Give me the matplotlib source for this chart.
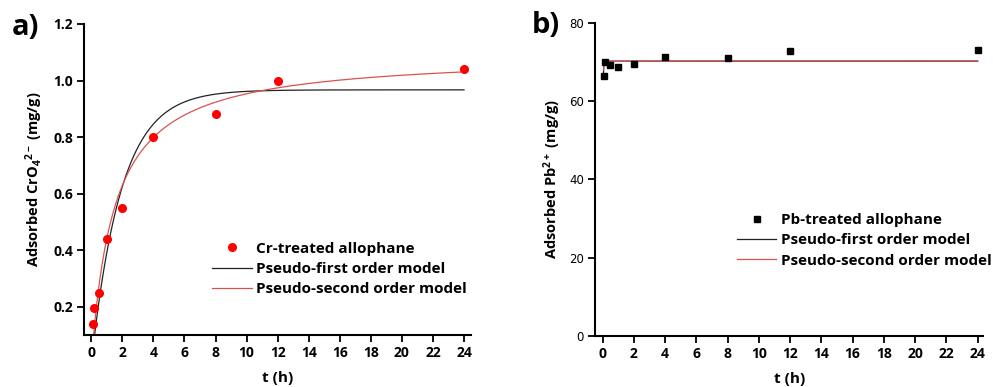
import numpy as np
import matplotlib
matplotlib.use("Agg")
import matplotlib.pyplot as plt

plt.rcParams['font.family'] = ['Open Sans', 'DejaVu Sans']
plt.rcParams['mathtext.fontset'] = 'custom'
plt.rcParams['mathtext.rm'] = 'Open Sans:bold'
plt.rcParams['mathtext.it'] = 'Open Sans:bold'
plt.rcParams['mathtext.bf'] = 'Open Sans:bold'

# sampling times (h)
t_cr = [0.083, 0.167, 0.5, 1, 2, 4, 8, 12, 24]
q_cr = [0.14, 0.195, 0.25, 0.44, 0.55, 0.80, 0.88, 1.00, 1.04]

t_pb = [0.083, 0.167, 0.5, 1, 2, 4, 8, 12, 24]
q_pb = [66.5, 69.9, 69.3, 68.7, 69.4, 71.4, 71.0, 72.8, 73.0]

# fitted kinetic parameters
cr_pfo = dict(qe=0.967, k1=0.52)
cr_pso = dict(qe=1.094, k2=0.619)
pb_pfo = dict(qe=70.25, k1=60.0)
pb_pso = dict(qe=70.3, k2=8.4)

xticks = list(range(0, 25, 2))


def pfo(t, qe, k1):
    return qe * (1 - np.exp(-k1 * t))


def pso(t, qe, k2):
    return qe ** 2 * k2 * t / (1 + qe * k2 * t)


fig = plt.figure(figsize=(9.93, 3.87), dpi=100)
ax1 = fig.add_axes([0.0846, 0.1344, 0.3897, 0.8036])
ax2 = fig.add_axes([0.5992, 0.1326, 0.3910, 0.8080])

red = '#ff0000'
line_red = '#d9534f'
line_blk = '#222222'
leg_font = {'weight': 'bold', 'size': 11}

# ---- a) chromate
tt = np.linspace(0, 24, 600)
ax1.plot(t_cr, q_cr, 'o', color=red, ms=5.5, label='Cr-treated allophane', zorder=3)
ax1.plot(tt, pfo(tt, **cr_pfo), color=line_blk, lw=0.9, label='Pseudo-first order model')
ax1.plot(tt, pso(tt, **cr_pso), color=line_red, lw=0.9, label='Pseudo-second order model')
ax1.set_xlim(-0.47, 24.45)
ax1.set_ylim(0.1, 1.2)
ax1.set_yticks([0.2, 0.4, 0.6, 0.8, 1.0, 1.2])
ax1.set_yticklabels(['0.2', '0.4', '0.6', '0.8', '1.0', '1.2'])
ax1.set_xticks(xticks)
ax1.set_xlabel('t (h)', fontsize=11, fontweight='bold', labelpad=8)
ax1.set_ylabel(r'Adsorbed CrO$_4$$^{2-}$ (mg/g)', fontsize=10.5, fontweight='bold', labelpad=6)
for lab in ax1.get_xticklabels() + ax1.get_yticklabels():
    lab.set_fontweight('bold')
    lab.set_fontsize(10)
ax1.legend(loc='center left', bbox_to_anchor=(0.331, 0.212), frameon=False,
           prop=leg_font, handlelength=2.6, handletextpad=0.3, labelspacing=0.42,
           borderpad=0, borderaxespad=0)
fig.text(0.012, 0.928, 'a)', fontsize=21, fontweight='bold', va='center')

# ---- b) lead
tt2 = np.linspace(0.05, 24, 2000)
ax2.plot(t_pb, q_pb, 's', color='black', ms=5, label='Pb-treated allophane', zorder=3)
ax2.plot(tt2, pfo(tt2, **pb_pfo), color=line_blk, lw=0.9, label='Pseudo-first order model')
ax2.plot(tt2, pso(tt2, **pb_pso), color=line_red, lw=0.9, label='Pseudo-second order model')
ax2.set_xlim(-0.49, 24.36)
ax2.set_ylim(0, 80)
ax2.set_yticks([0, 20, 40, 60, 80])
ax2.set_xticks(xticks)
ax2.set_xlabel('t (h)', fontsize=11, fontweight='bold', labelpad=8)
ax2.set_ylabel(r'Adsorbed Pb$^{2+}$ (mg/g)', fontsize=10.5, fontweight='bold', labelpad=4)
for lab in ax2.get_xticklabels():
    lab.set_fontweight('bold')
    lab.set_fontsize(10)
for lab in ax2.get_yticklabels():
    lab.set_fontsize(8.5)
    lab.set_family(['DejaVu Sans'])
ax2.legend(loc='center left', bbox_to_anchor=(0.365, 0.305), frameon=False,
           prop=leg_font, handlelength=2.6, handletextpad=0.3, labelspacing=0.42,
           borderpad=0, borderaxespad=0)
fig.text(0.535, 0.933, 'b)', fontsize=21, fontweight='bold', va='center')

for ax in (ax1, ax2):
    ax.spines['top'].set_visible(False)
    ax.spines['right'].set_visible(False)
    ax.spines['left'].set_linewidth(1.5)
    ax.spines['bottom'].set_linewidth(1.5)
    ax.tick_params(direction='out', length=5, width=1.3, pad=3)

fig.savefig('out.png', dpi=100)
